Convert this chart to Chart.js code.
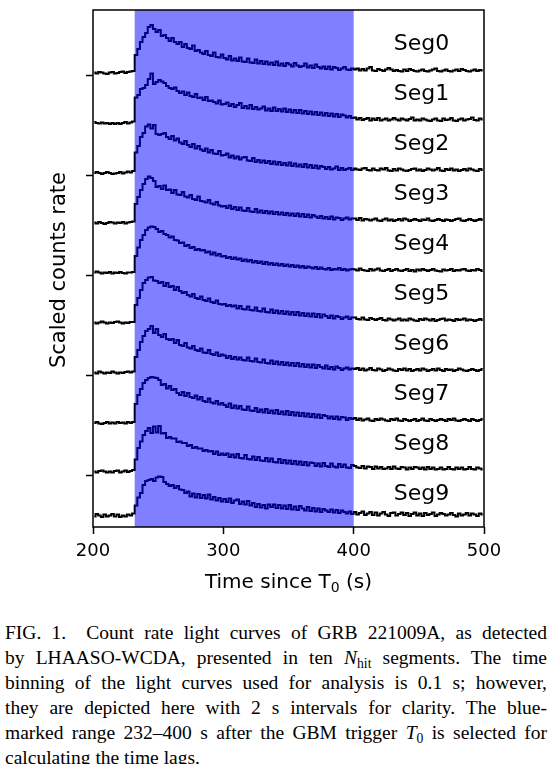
<!DOCTYPE html>
<html><head><meta charset="utf-8">
<script src="https://cdn.jsdelivr.net/npm/chart.js@4.4.0/dist/chart.umd.min.js"></script>
<style>
html,body{margin:0;padding:0;background:#fff;width:550px;height:764px;overflow:hidden}
#wrap{position:absolute;left:0;top:0;width:550px;height:600px}
#cap{position:absolute;left:5px;top:620px;width:542px;font-family:"Liberation Serif","Times New Roman",serif;font-size:19.5px;line-height:25px;color:#000}
#cap div{text-align:justify;text-align-last:justify}
#cap div.last{text-align-last:left}
sub{font-size:0.7em;vertical-align:baseline;position:relative;top:0.3em;line-height:0}
</style></head><body>
<div id="wrap"><canvas id="c" width="550" height="600"></canvas></div>
<div id="cap">
<div>FIG. 1.&ensp; Count rate light curves of GRB 221009A, as detected</div>
<div>by LHAASO-WCDA, presented in ten <i>N</i><sub>hit</sub> segments. The time</div>
<div>binning of the light curves used for analysis is 0.1 s; however,</div>
<div>they are depicted here with 2 s intervals for clarity. The blue-</div>
<div>marked range 232–400 s after the GBM trigger <i>T</i><sub>0</sub> is selected for</div>
<div class="last">calculating the time lags.</div>
</div>
<script>
// ---- data (scaled count rate, percent of segment spacing), 2 s bins from 200 s ----
const binStart = 200;
const binWidth = 2;
const segNames = ["Seg0","Seg1","Seg2","Seg3","Seg4","Seg5","Seg6","Seg7","Seg8","Seg9"];
const offsets = [0,-1,-2,-3,-4,-5,-6,-7,-8,-9];
const xTicks = [200,300,400,500];
const yTicks = [0,-2,-4,-6,-8];
const spanStart = 232;
const spanEnd = 400;

const seg0 = [5,3,6,5,3,2,5,6,3,4,6,7,4,6,7,8,
40,52,66,76,84,96,100,92,86,90,78,80,74,68,74,66,62,66,56,62,54,52,59,48,50,45,42,48,40,38,45,36,35,41,
34,31,38,29,33,28,35,27,26,33,25,24,31,23,28,22,27,21,25,20,27,19,23,18,24,21,17,24,19,16,18,23,15,19,14,21,16,13,17,12,17,11,16,14,10,13,16,11,10,13,
11,13,9,12,9,13,16,9,8,12,10,8,11,14,11,8,10,8,7,11,8,12,10,8,7,9,11,8,7,9,11,13,8,7,9,11,8,7,9,11,8,12,10,8,7,9,11,8,10,9];
const seg1 = [6,4,3,5,3,4,2,4,2,4,2,4,6,3,5,7,
55,60,72,74,80,92,103,82,86,90,87,84,78,74,72,75,68,64,67,60,65,58,56,62,54,55,50,56,48,49,46,43,49,41,
42,45,38,42,36,40,44,34,38,33,40,32,36,31,33,37,29,33,28,35,28,32,27,33,26,31,25,30,24,30,23,28,22,27,21,26,20,25,19,24,18,23,17,22,16,21,19,15,18,14,
15,11,14,10,12,14,9,13,10,14,9,11,13,9,11,14,11,9,13,11,9,12,15,9,11,9,13,11,9,8,11,13,9,8,13,10,11,14,9,8,11,13,9,11,12,15,10,9,13,11];
const seg2 = [4,6,4,2,4,6,4,2,3,4,6,3,5,7,5,8,
45,58,76,84,97,101,93,100,82,80,82,84,76,72,78,69,73,65,62,68,60,56,62,53,58,51,48,53,45,50,43,42,48,39,
40,43,35,39,33,37,31,35,36,29,28,34,26,30,25,29,24,28,22,27,21,26,20,24,19,25,18,23,17,21,16,22,15,20,14,19,13,18,16,12,16,11,13,17,10,14,10,12,14,10,
13,11,10,13,14,10,9,13,10,9,13,11,14,9,8,12,9,13,11,9,8,10,12,13,9,11,8,10,13,11,9,11,14,9,8,12,10,13,9,11,8,10,12,9,13,11,9,8,12,10];
const seg3 = [5,3,6,4,2,4,6,5,3,5,4,6,3,5,6,7,
42,56,70,82,92,97,94,88,76,78,72,79,70,71,64,70,61,60,66,57,55,60,52,50,57,48,47,45,50,43,41,46,39,37,
38,34,39,32,36,30,35,29,28,34,27,26,32,25,29,24,28,23,27,22,26,21,25,20,24,19,23,18,23,17,22,16,21,15,20,17,14,18,13,16,12,17,11,15,14,10,13,15,11,13,
13,10,14,9,12,11,9,11,13,9,8,11,13,9,11,8,10,12,9,13,11,8,10,12,10,8,11,10,13,9,8,10,12,10,8,11,10,8,10,12,13,9,8,10,12,10,8,10,12,10];
const seg4 = [5,7,5,3,5,4,6,3,5,4,6,4,3,5,5,6,
38,55,70,80,90,95,97,96,92,86,88,82,80,75,77,70,69,64,65,58,60,54,56,50,52,49,50,45,47,41,45,39,42,37,
38,34,36,32,35,31,33,28,31,27,30,25,28,24,27,22,26,21,24,20,23,19,22,18,21,17,20,16,19,15,18,14,17,15,13,16,12,15,12,11,14,10,12,11,14,10,12,9,11,12,
11,9,13,10,9,8,12,9,11,13,9,8,10,12,8,10,12,9,8,10,12,8,10,7,11,9,12,10,8,10,12,9,8,7,11,9,10,12,8,10,9,11,12,9,8,10,9,12,10,8];
const seg5 = [5,3,5,7,5,3,5,4,6,7,5,3,5,4,6,6,
40,54,70,84,90,95,96,89,88,84,86,78,84,76,78,70,76,68,64,66,60,57,62,54,52,57,50,48,53,46,44,49,42,41,
42,38,40,37,39,33,38,32,31,37,30,29,35,28,27,33,26,25,31,24,29,23,28,22,27,21,26,20,26,19,24,18,23,17,23,16,22,15,21,18,14,19,13,18,16,12,15,17,12,15,
15,12,11,15,11,10,14,12,10,12,14,10,9,13,11,9,11,13,9,11,9,13,11,9,8,12,10,13,11,9,12,8,10,12,13,9,11,10,8,12,10,11,13,9,11,10,8,10,12,10];
const seg6 = [5,3,7,5,3,5,4,7,5,3,5,4,6,7,5,7,
36,50,66,78,88,92,98,84,92,80,76,82,72,70,72,64,70,60,58,64,55,53,58,50,48,53,45,44,50,42,40,45,38,41,
39,34,38,32,36,31,35,30,29,35,28,27,33,26,25,31,24,23,29,22,27,21,26,20,25,19,24,18,24,17,22,16,21,15,21,14,20,16,13,19,12,16,11,17,14,10,13,15,11,13,
12,14,10,13,9,11,14,10,9,13,11,8,10,13,11,9,8,12,10,13,9,12,8,10,12,9,13,11,8,10,12,9,13,10,8,12,10,11,8,10,13,11,9,8,10,12,10,8,10,12];
const seg7 = [4,6,3,2,4,6,3,5,3,6,4,5,3,6,4,6,
42,60,72,84,90,94,96,95,94,90,80,82,73,78,70,72,64,60,66,58,64,56,54,59,51,56,48,46,53,45,43,48,41,44,
40,36,43,34,39,33,38,31,30,37,29,28,34,26,31,25,32,24,29,23,30,22,27,21,28,20,26,19,25,18,24,17,23,16,22,15,21,14,20,18,13,17,12,17,11,16,15,10,14,12,
14,10,13,9,11,13,9,8,12,10,13,11,9,8,12,10,13,9,8,12,10,8,10,12,8,10,13,9,8,12,10,8,10,12,10,8,12,10,13,9,8,10,12,10,8,12,10,8,10,12];
const seg8 = [7,5,8,9,7,5,7,5,8,9,5,7,9,6,8,10,
31,54,67,80,88,94,84,97,85,98,83,84,74,76,73,73,66,67,64,64,58,60,54,56,53,53,48,50,47,48,42,47,40,43,
40,43,36,41,35,42,34,33,40,32,31,37,30,36,29,28,34,27,33,26,25,32,24,30,23,29,22,28,21,27,20,26,19,25,24,18,23,17,24,18,16,23,17,15,22,16,21,15,14,20,
18,15,14,18,13,17,16,12,17,13,16,12,13,16,12,17,13,12,16,15,11,15,12,16,15,12,15,11,16,12,15,11,12,15,11,12,16,12,11,15,12,15,11,12,16,12,11,15,13,11];
const seg9 = [17,22,19,16,21,17,19,22,17,21,16,19,17,21,19,23,
39,55,64,80,88,90,92,88,95,97,96,86,82,78,80,74,78,71,70,64,67,57,63,55,62,54,60,53,61,51,56,49,54,47,
52,46,53,44,49,51,42,47,41,48,39,44,36,42,35,40,33,41,36,41,34,40,33,39,32,40,31,37,30,38,33,29,36,28,34,27,33,26,32,29,26,31,25,30,24,29,26,23,27,22,
26,21,24,27,20,23,26,20,25,19,23,26,21,18,24,25,19,22,25,20,24,18,22,25,19,23,18,24,20,22,25,18,21,24,22,19,21,24,20,17,23,19,21,24,19,23,21,18,23,21];
const segValues = [seg0,seg1,seg2,seg3,seg4,seg5,seg6,seg7,seg8,seg9];

// ---- style / layout ----
const FONT = "'DejaVu Sans', sans-serif";
const segLabelX = 452;
const segLabelDy = 0.5;

const datasets = segValues.map((arr, i) => ({
  label: segNames[i],
  data: arr.map((v, k) => ({ x: binStart + binWidth * (k + 0.5), y: offsets[i] + v / 100 })),
  borderColor: '#000',
  borderWidth: 2,
  stepped: 'middle',
  pointRadius: 0,
  fill: false,
  borderJoinStyle: 'miter',
  borderCapStyle: 'butt'
}));

const decor = {
  id: 'decor',
  afterDatasetsDraw(chart) {
    const { ctx, chartArea: a, scales: { x } } = chart;
    ctx.save();
    ctx.fillStyle = 'rgba(0,0,255,0.5)';
    const x0 = x.getPixelForValue(spanStart), x1 = x.getPixelForValue(spanEnd);
    ctx.fillRect(x0, a.top, x1 - x0, a.bottom - a.top);
    ctx.restore();
  },
  afterDraw(chart) {
    const { ctx, chartArea: a, scales: { x, y } } = chart;
    ctx.save();
    ctx.strokeStyle = '#000';
    ctx.lineWidth = 1.5;
    ctx.strokeRect(a.left, a.top, a.right - a.left, a.bottom - a.top);
    ctx.fillStyle = '#000';
    // segment labels
    ctx.font = "22px " + FONT;
    ctx.textAlign = 'center';
    ctx.textBaseline = 'alphabetic';
    segNames.forEach((n, i) => {
      ctx.fillText(n, x.getPixelForValue(segLabelX), y.getPixelForValue(offsets[i] + segLabelDy));
    });
    // x title with subscript
    const big = "20px " + FONT, small = "14px " + FONT;
    ctx.font = big; const w1 = ctx.measureText("Time since T").width; const w3 = ctx.measureText(" (s)").width;
    ctx.font = small; const w2 = ctx.measureText("0").width;
    const cx = (a.left + a.right) / 2, by = 588;
    let sx = cx - (w1 + w2 + w3) / 2;
    ctx.textAlign = 'left';
    ctx.font = big; ctx.fillText("Time since T", sx, by);
    ctx.font = small; ctx.fillText("0", sx + w1, by + 4);
    ctx.font = big; ctx.fillText(" (s)", sx + w1 + w2, by);
    // y title
    ctx.translate(60, 270);
    ctx.rotate(-Math.PI / 2);
    ctx.font = "21px " + FONT;
    ctx.textAlign = 'center';
    ctx.textBaseline = 'middle';
    ctx.fillText("Scaled counts rate", 0, 0);
    ctx.restore();
  }
};

new Chart(document.getElementById('c'), {
  type: 'line',
  data: { datasets },
  options: {
    responsive: false,
    animation: false,
    events: [],
    layout: { padding: { left: 0, top: 10, right: 66, bottom: 0 } },
    plugins: { legend: { display: false }, tooltip: { enabled: false } },
    scales: {
      x: {
        type: 'linear', min: 200, max: 500,
        afterBuildTicks: s => { s.ticks = xTicks.map(v => ({ value: v })); },
        afterFit: s => { s.height = 73; },
        border: { display: false },
        grid: { drawOnChartArea: false, drawTicks: true, tickLength: 7, tickWidth: 1.5, tickColor: '#000' },
        ticks: { color: '#000', font: { family: FONT, size: 18 }, padding: 7, maxRotation: 0 }
      },
      y: {
        type: 'linear', min: -9.04, max: 1.3,
        afterBuildTicks: s => { s.ticks = yTicks.map(v => ({ value: v })); },
        afterFit: s => { s.width = 93; },
        border: { display: false },
        grid: { drawOnChartArea: false, drawTicks: true, tickLength: 7, tickWidth: 1.5, tickColor: '#000' },
        ticks: { display: true, callback: () => '', padding: 0 }
      }
    }
  },
  plugins: [decor]
});
</script>
</body></html>
